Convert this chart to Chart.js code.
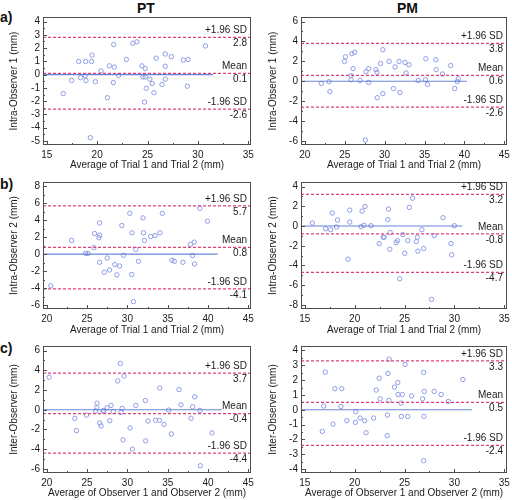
<!DOCTYPE html>
<html>
<head>
<meta charset="utf-8">
<script src="https://cdn.jsdelivr.net/npm/chart.js@4.4.1/dist/chart.umd.min.js"></script>
<style>
  html, body { margin: 0; padding: 0; background: #fff; width: 512px; height: 500px; overflow: hidden; }
  #wrap { position: relative; width: 512px; height: 500px; font-family: "Liberation Sans", Arial, sans-serif; color: #111; }
  canvas { position: absolute; }
  .hdr { position: absolute; font-weight: bold; font-size: 14px; line-height: 14px; white-space: nowrap; }
</style>
</head>
<body>
<div id="wrap">
  <div class="hdr" style="left:0px; top:10px">a)</div>
  <div class="hdr" style="left:0px; top:177px">b)</div>
  <div class="hdr" style="left:0px; top:341px">c)</div>
  <div class="hdr" style="left:137px; top:1px">PT</div>
  <div class="hdr" style="left:397px; top:1px">PM</div>
  <canvas id="c0" width="256" height="172" style="left:0px; top:0px"></canvas>
  <canvas id="c1" width="253" height="172" style="left:259px; top:0px"></canvas>
  <canvas id="c2" width="256" height="172" style="left:0px; top:165px"></canvas>
  <canvas id="c3" width="253" height="172" style="left:259px; top:165px"></canvas>
  <canvas id="c4" width="256" height="170" style="left:0px; top:330px"></canvas>
  <canvas id="c5" width="253" height="170" style="left:259px; top:330px"></canvas>
</div>
<script>
// differences vs averages (order: a PT, a PM, b PT, b PM, c PT, c PM)
const aPT = [[16.63,-1.43],[17.46,-0.44],[18.16,0.99],[18.36,-0.23],[18.85,0.99],[18.82,-0.08],[18.89,-0.44],[19.49,1.47],[19.45,0.99],[19.82,-0.54],[19.32,-4.75],[20.38,0.28],[21.01,-1.74],[21.21,0.66],[21.64,2.27],[21.7,0.56],[21.6,-0.6],[22.9,1.14],[22.14,-0.06],[23.54,2.36],[23.94,2.47],[24.44,0.66],[24.54,-0.18],[24.77,-0.18],[24.77,0.45],[24.87,-1.03],[24.7,-2.07],[25.23,-0.34],[25.47,-0.67],[25.63,-1.36],[25.86,1.24],[26.43,-0.74],[26.76,1.55],[26.76,0.63],[26.76,-0.34],[27.36,1.35],[28.56,1.09],[29.02,1.14],[28.95,-0.87],[30.75,2.16]]
const aPM = [[22.07,-0.22],[23.03,-0.05],[23.15,-1.04],[24.98,1.99],[25.1,2.46],[25.8,0.56],[25.89,2.77],[25.8,0.15],[26.05,1.27],[26.26,2.91],[26.92,0.08],[27.67,0.97],[28.0,1.27],[28.0,-0.12],[27.59,-5.9],[28.91,1.17],[29.04,0.9],[29.49,1.78],[29.08,-1.65],[29.78,3.17],[29.78,-1.24],[30.57,1.99],[31.11,-0.73],[31.32,1.44],[31.82,1.99],[31.94,-1.14],[32.56,1.89],[32.69,0.83],[33.06,1.65],[34.22,0.08],[35.17,2.26],[35.13,0.15],[35.38,-0.32],[36.42,2.16],[36.46,1.17],[37.25,0.73],[38.28,1.58],[38.78,-0.73],[39.11,-0.02],[39.24,0.25]]
const bPT = [[20.49,-3.73],[23.09,1.63],[24.82,0.1],[25.11,0.1],[25.85,0.77],[25.93,2.45],[26.47,1.94],[26.55,2.25],[26.55,3.7],[26.55,-0.95],[27.13,-2.13],[27.5,-0.45],[27.78,-1.86],[28.44,-1.23],[28.69,-2.44],[29.02,-1.39],[29.31,3.39],[29.51,-0.13],[30.3,4.83],[30.58,2.53],[30.54,-2.4],[30.75,-5.6],[31.04,0.57],[31.37,-0.84],[31.94,4.29],[31.99,2.53],[32.11,1.63],[32.89,2.09],[33.43,2.21],[34.04,2.53],[34.33,4.83],[35.53,-0.72],[35.82,-0.84],[36.89,-0.95],[37.83,1.16],[38.29,1.43],[38.08,-0.17],[38.33,-1.15],[38.99,5.42],[39.93,3.9]]
const bPM = [[15.76,0.3],[17.09,-0.27],[17.59,-0.37],[17.75,1.31],[18.18,-0.1],[18.28,0.61],[19.34,-3.36],[19.51,1.61],[19.51,0.4],[20.64,-0.07],[20.74,1.51],[20.94,0.07],[21.04,1.98],[21.63,0.03],[22.46,-1.78],[22.86,-1.14],[22.96,-1.14],[23.32,0.64],[23.39,1.71],[23.52,-2.35],[23.56,-0.67],[24.16,-1.68],[24.29,-1.48],[24.52,-5.34],[24.82,-0.87],[25.02,-2.76],[25.32,-1.48],[25.48,1.88],[25.81,2.82],[26.18,-1.58],[26.28,-1.14],[26.34,-2.55],[26.74,-0.37],[26.91,-2.28],[27.7,-7.43],[27.97,-0.97],[28.86,0.84],[29.66,-1.78],[29.73,-2.92],[29.99,0.03]]
const cPT = [[20.29,3.29],[23.47,-0.87],[23.68,-2.11],[24.92,-0.54],[26.07,-0.13],[26.2,0.2],[26.24,0.67],[26.57,-1.34],[26.74,-1.64],[26.98,-0.13],[27.07,-0.07],[27.48,0.2],[27.81,-1.11],[27.98,0.44],[28.26,-0.17],[28.8,2.92],[29.13,4.69],[29.21,-0.27],[29.34,0.13],[29.46,-3.05],[29.59,3.42],[30.33,-1.84],[30.62,-3.99],[31.03,0.44],[32.23,0.94],[32.27,-3.15],[32.56,-1.14],[33.51,-1.07],[33.97,-1.07],[34.01,2.21],[34.55,-1.48],[35.12,-0.03],[35.45,-2.45],[36.4,2.04],[36.65,0.5],[37.9,-0.87],[38.1,0.3],[38.35,1.31],[39.01,-0.07],[39.05,-5.67],[40.5,-2.35]]
const cPM = [[16.76,-1.46],[16.89,0.25],[17.06,2.54],[17.82,-0.97],[18.02,1.42],[18.62,0.22],[18.71,1.42],[19.21,-0.74],[20.07,-0.85],[20.11,-0.13],[20.54,-0.56],[21.0,-0.74],[21.14,-1.55],[21.9,-0.56],[22.16,1.33],[22.46,2.13],[22.56,0.74],[23.29,-0.36],[23.26,-1.75],[23.33,2.45],[23.43,0.63],[23.46,3.42],[23.99,1.53],[24.32,1.84],[24.35,1.03],[24.65,0.45],[24.68,-0.45],[24.78,1.03],[25.05,3.06],[25.32,-0.45],[25.71,0.94],[26.81,0.74],[26.91,2.52],[26.94,-0.45],[26.97,1.24],[26.91,-3.44],[27.97,1.24],[28.67,1.03],[29.39,0.56],[30.85,2.04]]

const points = [aPT, aPM, bPT, bPM, cPT, cPM]
const meanDiff = [0.1, 0.6, 0.8, -0.8, -0.4, 0.5]
const upperLoA = [2.8, 3.8, 5.7, 3.2, 3.7, 3.3]
const lowerLoA = [-2.6, -2.6, -4.1, -4.7, -4.4, -2.4]
const zeroEnd = [31.5, 40.3, 41.2, 30.8, 41.7, 31.75]   // where the blue zero line stops

const xTicks = [[15,20,25,30,35], [20,25,30,35,40,45], [20,25,30,35,40,45], [15,20,25,30,35], [20,25,30,35,40,45], [15,20,25,30,35]]
const yTicks = [[-5,-4,-3,-2,-1,0,1,2,3,4], [-6,-4,-2,0,2,4,6], [-6,-4,-2,0,2,4,6,8], [-8,-6,-4,-2,0,2,4], [-6,-4,-2,0,2,4,6], [-4,-3,-2,-1,0,1,2,3,4]]
const xTitles = ['Average of Trial 1 and Trial 2 (mm)', 'Average of Trial 1 and Trial 2 (mm)', 'Average of Trial 1 and Trial 2 (mm)', 'Average of Trial 1 and Trial 2 (mm)', 'Average of Observer 1 and Observer 2 (mm)', 'Average of Observer 1 and Observer 2 (mm)']
const yTitles = ['Intra-Observer 1 (mm)', 'Intra-Observer 1 (mm)', 'Intra-Observer 2 (mm)', 'Intra-Observer 2 (mm)', 'Inter-Observer (mm)', 'Inter-Observer (mm)']

// layout of the 6 panels (plot frame inside each canvas)
const colLeft = [43, 42]      // y axis box width
const colRight = [5, 4]       // space right of frame
const rowTop = [17, 17, 16]   // space above frame
const rowAxis = [27, 28, 27]  // x axis box height

const FONT = '"Liberation Sans", Arial, sans-serif'
const frameColor = '#4a4f4c'
const dashColor = '#e2407a'

// axis range: tick span plus a few pixels of air at each side
function axisRange(ticks, lenPx, padLo, padHi) {
    const t0 = ticks[0], t1 = ticks[ticks.length - 1]
    const unit = (lenPx - padLo - padHi) / (t1 - t0)
    return [t0 - padLo / unit, t1 + padHi / unit]
}

const framePlugin = {
    id: 'frameNotes',
    afterDatasetsDraw(chart) {
        const i = chart.options.plugins.frameNotes.idx
        const { ctx, chartArea: a } = chart
        const sx = chart.scales.x, sy = chart.scales.y
        ctx.save()
        ctx.strokeStyle = frameColor
        ctx.lineWidth = 1
        ctx.strokeRect(a.left + 0.5, a.top + 0.5, a.right - a.left - 1, a.bottom - a.top - 1)

        // inward tick marks, major + minor
        ctx.beginPath()
        const xt = xTicks[i], yt = yTicks[i]
        const xs = xt[1] - xt[0], ys = yt[1] - yt[0]
        xt.forEach((v, k) => {
            let px = Math.round(sx.getPixelForValue(v)) + 0.5
            ctx.moveTo(px, a.bottom); ctx.lineTo(px, a.bottom - 4)
            if (k < xt.length - 1) {
                px = Math.round(sx.getPixelForValue(v + xs / 2)) + 0.5
                ctx.moveTo(px, a.bottom); ctx.lineTo(px, a.bottom - 2)
            }
        })
        yt.forEach((v, k) => {
            let py = Math.round(sy.getPixelForValue(v)) + 0.5
            ctx.moveTo(a.left, py); ctx.lineTo(a.left + 4, py)
            if (k < yt.length - 1) {
                py = Math.round(sy.getPixelForValue(v + ys / 2)) + 0.5
                ctx.moveTo(a.left, py); ctx.lineTo(a.left + 2, py)
            }
        })
        ctx.stroke()

        // limit labels
        ctx.fillStyle = '#1a1a1a'
        ctx.font = '10px ' + FONT
        ctx.textAlign = 'right'
        ctx.textBaseline = 'middle'
        const notes = [[upperLoA[i], '+1.96 SD'], [meanDiff[i], 'Mean'], [lowerLoA[i], '-1.96 SD']]
        notes.forEach(n => {
            const py = sy.getPixelForValue(n[0])
            ctx.fillText(n[1], a.right - 4, py - 7)
            ctx.fillText(n[0].toFixed(1), a.right - 4, py + 6)
        })
        ctx.restore()
    }
}

function makePanel(i) {
    const col = i % 2, row = Math.floor(i / 2)
    const cv = document.getElementById('c' + i)
    const plotW = cv.width - colLeft[col] - colRight[col]
    const plotH = cv.height - rowTop[row] - rowAxis[row]
    const xr = axisRange(xTicks[i], plotW, 3.8, 2.7)
    const yr = axisRange(yTicks[i], plotH, 4, 4.5)

    const hline = (v, color, dash, x1) => ({
        type: 'scatter',
        data: [{ x: xr[0], y: v }, { x: x1, y: v }],
        showLine: true,
        borderColor: color,
        borderWidth: 1.2,
        borderDash: dash,
        pointRadius: 0,
        fill: false
    })

    new Chart(cv, {
        type: 'scatter',
        data: {
            datasets: [
                hline(0, 'rgba(80,110,210,0.85)', [], zeroEnd[i]),
                hline(upperLoA[i], dashColor, [3, 2], xr[1]),
                hline(meanDiff[i], dashColor, [3, 2], xr[1]),
                hline(lowerLoA[i], dashColor, [3, 2], xr[1]),
                {
                    data: points[i].map(p => ({ x: p[0], y: p[1] })),
                    pointStyle: 'circle',
                    pointRadius: 2.2,
                    borderWidth: 1,
                    borderColor: '#8e9ce6',
                    backgroundColor: 'rgba(0,0,0,0)'
                }
            ]
        },
        options: {
            responsive: false,
            animation: false,
            devicePixelRatio: 1,
            layout: { padding: { left: 0, right: colRight[col], top: rowTop[row], bottom: 0 } },
            plugins: {
                legend: { display: false },
                tooltip: { enabled: false },
                frameNotes: { idx: i }
            },
            scales: {
                x: {
                    type: 'linear',
                    min: xr[0],
                    max: xr[1],
                    grid: { display: false, drawTicks: false },
                    border: { display: false },
                    ticks: { color: '#1a1a1a', font: { size: 10, family: FONT }, padding: 4, maxRotation: 0, autoSkip: false },
                    afterBuildTicks: s => { s.ticks = xTicks[i].map(v => ({ value: v })) },
                    afterFit: s => { s.height = rowAxis[row]; s.paddingLeft = 0; s.paddingRight = 0 },
                    title: { display: true, text: xTitles[i], color: '#1a1a1a', font: { size: 10, family: FONT }, padding: { top: 0, bottom: 1 } }
                },
                y: {
                    type: 'linear',
                    min: yr[0],
                    max: yr[1],
                    grid: { display: false, drawTicks: false },
                    border: { display: false },
                    ticks: { color: '#1a1a1a', font: { size: 10, family: FONT }, padding: 3, autoSkip: false },
                    afterBuildTicks: s => { s.ticks = yTicks[i].map(v => ({ value: v })) },
                    afterFit: s => { s.width = colLeft[col] },
                    title: { display: true, text: yTitles[i], color: '#1a1a1a', font: { size: 10, family: FONT }, padding: { top: 8, bottom: 0 } }
                }
            }
        },
        plugins: [framePlugin]
    })
}

for (let i = 0; i < 6; i++) makePanel(i)
</script>
</body>
</html>
